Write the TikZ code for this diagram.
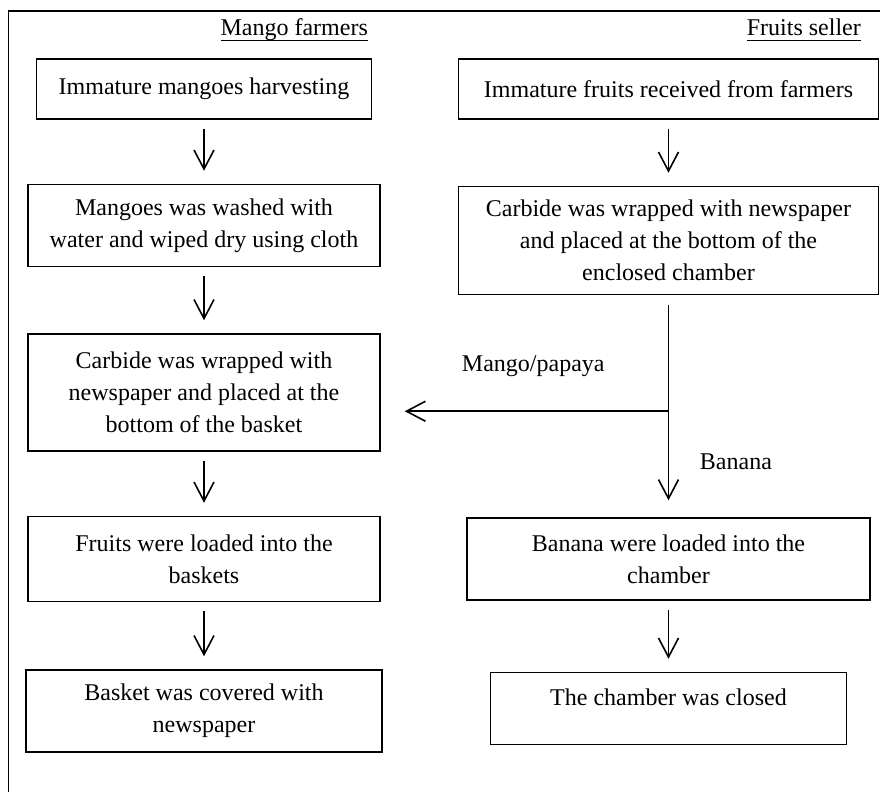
\documentclass[tikz,border=0pt]{standalone}
\usepackage{fontspec}
\setmainfont{Liberation Serif}
\usetikzlibrary{arrows.meta,positioning,calc}
\newcommand{\headline}[1]{\setbox0\hbox{#1}\rlap{\rule[-2.6pt]{\wd0}{0.65pt}}\box0}

\begin{document}
\begin{tikzpicture}[x=0.5pt, y=-0.5pt, >={Straight Barb[length=9.5pt,width=10pt]}, font=\fontsize{12}{16}\selectfont]
\tikzstyle{stage}=[draw, line width=0.75pt, align=center, inner sep=2pt]
\tikzstyle{head}=[inner sep=2pt, anchor=base east]
\tikzstyle{flow}=[->, line width=0.8pt, shorten <=4.5pt, shorten >=6.5pt]
\useasboundingbox (0,0) rectangle (880,792);
\draw[line width=0.75pt] (880,11) -- (8.4,11) -- (8.4,792);

\node[stage, minimum width=167.5pt, minimum height=30pt] (a1) at (204,89) {Immature mangoes harvesting};
\node[stage, minimum width=176pt, minimum height=41pt, below=32pt of a1] (a2) {Mangoes was washed with\\water and wiped dry using cloth};
\node[stage, minimum width=176pt, minimum height=58.5pt, below=33pt of a2] (a3) {Carbide was wrapped with\\newspaper and placed at the\\bottom of the basket};
\node[stage, minimum width=176pt, minimum height=42.5pt, below=32pt of a3] (a4) {Fruits were loaded into the\\baskets};
\node[stage, minimum width=178pt, minimum height=41pt, below=33.5pt of a4] (a5) {Basket was covered with\\newspaper};

\node[stage, minimum width=210pt, minimum height=30pt, right=42.75pt of a1] (b1) {Immature fruits received from farmers};
\node[stage, minimum width=210pt, minimum height=54pt, below=33pt of b1] (b2) {Carbide was wrapped with newspaper\\and placed at the bottom of the\\enclosed chamber};
\node[stage, minimum width=201.5pt, minimum height=41pt, below=111pt of b2] (b3) {Banana were loaded into the\\chamber};
\node[stage, minimum width=178pt, minimum height=36pt, text depth=11.5pt, below=35.5pt of b3] (b4) {The chamber was closed};

\node[above=11.2pt of a1.north east, head] (hA) {\headline{Mango farmers}};
\node[above=11.2pt of b1.north east, xshift=-7pt, head] (hB) {\headline{Fruits seller}};

\draw[flow] (a1.south) -- (a1.south |- a2.north); \draw[flow] (a2.south) -- (a2.south |- a3.north);
\draw[flow] (a3.south) -- (a3.south |- a4.north); \draw[flow] (a4.south) -- (a4.south |- a5.north);
\draw[flow] (b1.south) -- (b1.south |- b2.north); \draw[flow] (b3.south) -- (b3.south |- b4.north);

% split after the carbide step
\coordinate[below=58pt of b2.south] (fork);
\draw[line width=0.8pt, shorten <=5pt] (b2.south) -- (fork);
\draw[flow, shorten <=0pt, shorten >=12pt] (fork) -- (fork -| a3.east) node[pos=0.47, above=13.5pt] (lmp) {Mango/papaya};
\draw[flow, shorten <=0pt, shorten >=8.5pt] (fork) -- (fork |- b3.north) node[pos=0.48, right=12pt] (lbn) {Banana};
\end{tikzpicture}
\end{document}
